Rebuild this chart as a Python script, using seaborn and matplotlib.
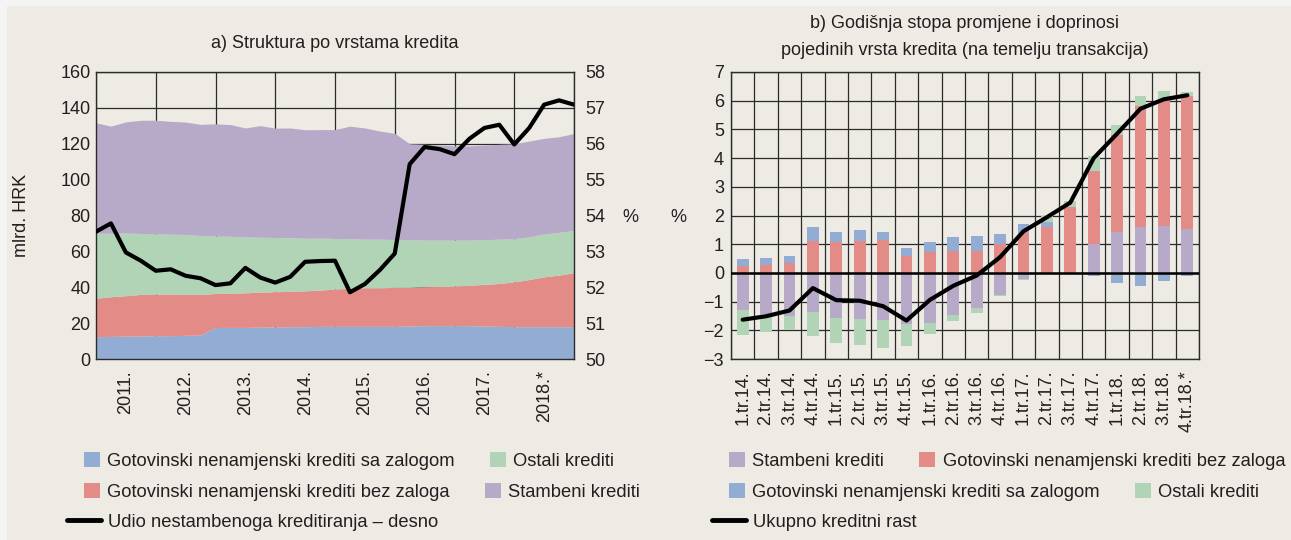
import matplotlib
matplotlib.use("Agg")
import matplotlib.pyplot as plt
from matplotlib.patches import Rectangle, Patch
from matplotlib.lines import Line2D
from matplotlib.font_manager import FontProperties
import seaborn as sns
import numpy as np
import pandas as pd

# ---- a) Struktura po vrstama kredita (mlrd. HRK, 4.tr.2010. - 4.tr.2018.) ----
godine = ["2011.", "2012.", "2013.", "2014.", "2015.", "2016.", "2017.", "2018.*"]
sa_zalogom = [12.4, 12.6, 12.8, 12.8, 13.0, 13.0, 13.2, 13.4, 17.6, 17.6, 17.6,
              17.8, 17.8, 18.0, 18.0, 18.2, 18.2, 18.2, 18.2, 18.2, 18.2, 18.4,
              18.6, 18.6, 18.6, 18.6, 18.4, 18.2, 18.0, 18.0, 18.0, 18.0, 18.0]
bez_zaloga = [21.5, 22.1, 22.5, 23.2, 23.2, 23.2, 23.0, 22.6, 18.9, 19.1, 19.3,
              19.5, 19.7, 19.7, 20.0, 20.2, 20.8, 21.2, 21.5, 21.5, 21.7, 21.5,
              21.7, 21.9, 22.1, 22.5, 23.2, 23.9, 25.0, 26.3, 27.8, 28.8, 30.1]
ostali = [36.2, 35.4, 34.9, 34.0, 33.6, 33.4, 33.2, 32.8, 32.1, 31.7, 31.2,
          30.6, 30.2, 29.9, 29.3, 29.0, 28.2, 27.7, 27.1, 27.1, 26.7, 26.5,
          26.0, 25.8, 25.6, 25.2, 24.9, 24.7, 24.1, 23.8, 23.9, 23.8, 23.6]
stambeni = [61.6, 59.7, 62.0, 63.1, 63.3, 62.9, 62.7, 62.0, 62.5, 62.3, 60.7,
            62.2, 61.0, 61.2, 60.5, 60.5, 60.7, 62.7, 62.0, 60.3, 59.2, 53.6,
            53.4, 52.9, 52.5, 52.5, 52.7, 52.9, 52.9, 53.4, 53.3, 53.3, 54.0]
udio_nestambeni = [53.55, 53.78, 52.97, 52.74, 52.46, 52.50, 52.32, 52.25, 52.06,
                   52.11, 52.54, 52.27, 52.13, 52.29, 52.71, 52.73, 52.74, 51.86,
                   52.09, 52.48, 52.94, 55.43, 55.91, 55.85, 55.71, 56.14, 56.44,
                   56.53, 55.98, 56.44, 57.09, 57.21, 57.09]

# ---- b) Godisnja stopa promjene i doprinosi (%) ----
tromjesecja = ["1.tr.14.", "2.tr.14.", "3.tr.14.", "4.tr.14.", "1.tr.15.", "2.tr.15.",
               "3.tr.15.", "4.tr.15.", "1.tr.16.", "2.tr.16.", "3.tr.16.", "4.tr.16.",
               "1.tr.17.", "2.tr.17.", "3.tr.17.", "4.tr.17.", "1.tr.18.", "2.tr.18.",
               "3.tr.18.", "4.tr.18.*"]
dop_stambeni = [-1.28, -1.43, -1.49, -1.35, -1.57, -1.60, -1.64, -1.78, -1.74, -1.47,
                -1.22, -0.77, -0.20, 0.0, 0.0, 1.00, 1.43, 1.60, 1.65, 1.52]
dop_bez_zaloga = [0.23, 0.28, 0.35, 1.10, 1.07, 1.10, 1.16, 0.58, 0.72, 0.78,
                  0.78, 1.01, 1.38, 1.59, 2.28, 2.55, 3.38, 4.20, 4.40, 4.64]
dop_sa_zalogom = [0.25, 0.24, 0.25, 0.50, 0.37, 0.39, 0.28, 0.29, 0.35, 0.46,
                  0.52, 0.34, 0.32, 0.20, 0.0, -0.12, -0.34, -0.45, -0.29, -0.12]
dop_ostali = [-0.87, -0.62, -0.50, -0.84, -0.87, -0.90, -0.98, -0.78, -0.39, -0.22,
              -0.18, -0.05, -0.05, 0.19, 0.21, 0.52, 0.36, 0.37, 0.28, 0.13]
ukupni_rast = [-1.63, -1.51, -1.31, -0.53, -0.95, -0.97, -1.16, -1.66, -0.94, -0.45,
               -0.09, 0.55, 1.45, 1.94, 2.45, 4.00, 4.85, 5.72, 6.05, 6.19]

C_BLUE = "#93ACD3"
C_RED = "#E28B87"
C_GREEN = "#B2D4B6"
C_PURPLE = "#B6AAC8"
BG = "#EEEBE5"
INK = "#231F20"
GRID = "#2B2B2B"

sns.set_style("white", {"axes.facecolor": BG, "figure.facecolor": "#F4F4F4"})
plt.rcParams["font.family"] = ["Liberation Sans", "DejaVu Sans"]
plt.rcParams["text.color"] = INK
plt.rcParams["xtick.color"] = INK
plt.rcParams["ytick.color"] = INK

fp_title = FontProperties(family=["Liberation Sans", "DejaVu Sans"], size=13)
fp_leg = FontProperties(family=["Liberation Sans", "DejaVu Sans"], size=13.2)

W, H = 1291, 540
fig = plt.figure(figsize=(W / 100, H / 100), dpi=100)
fig.patches.append(Rectangle((7 / W, 0), 1, 1 - 6 / H, transform=fig.transFigure,
                             facecolor=BG, edgecolor="none", zorder=-10))


def px_axes(x0, x1, y0, y1):
    return fig.add_axes([x0 / W, 1 - y1 / H, (x1 - x0) / W, (y1 - y0) / H])


def style_box(ax):
    for s in ax.spines.values():
        s.set_visible(True)
        s.set_color(GRID)
        s.set_linewidth(1.0)
    ax.set_axisbelow(True)
    ax.grid(True, which="major", color=GRID, lw=0.9)
    ax.tick_params(which="both", length=0, labelsize=13)


# ---------------- panel a ----------------
ax1 = px_axes(96, 574, 72, 359)
x_a = np.arange(len(stambeni))
ax1.stackplot(x_a, sa_zalogom, bez_zaloga, ostali, stambeni,
              colors=[C_BLUE, C_RED, C_GREEN, C_PURPLE], lw=0, zorder=1)
ax1.set_xlim(0, len(stambeni) - 1)
ax1.set_ylim(0, 160)
ax1.set_yticks(np.arange(0, 161, 20))
ax1.set_xticks(np.arange(0, len(stambeni), 4))
ax1.set_xticklabels([])
ax1.set_xticks(np.arange(2, len(stambeni), 4), minor=True)
ax1.set_xticklabels(godine, minor=True, rotation=90)
style_box(ax1)
ax1.tick_params(axis="y", pad=4)
ax1.tick_params(axis="x", which="minor", pad=8)

ax1r = ax1.twinx()
df_a = pd.DataFrame({"t": x_a, "udio": udio_nestambeni})
sns.lineplot(data=df_a, x="t", y="udio", ax=ax1r, color="black", lw=3, zorder=5)
ax1r.set_ylim(50, 58)
ax1r.set_yticks(np.arange(50, 59, 1))
ax1r.set_xlabel("")
ax1r.set_ylabel("")
ax1r.tick_params(length=0, labelsize=13, pad=8)
for s in ax1r.spines.values():
    s.set_visible(False)

fig.text(335 / W, 1 - 43 / H, "a) Struktura po vrstama kredita", ha="center",
         va="center", fontproperties=fp_title)
fig.text(22 / W, 1 - 215 / H, "mlrd. HRK", rotation=90, ha="center", va="center",
         fontsize=13)
fig.text(630 / W, 1 - 217 / H, "%", ha="center", va="center", fontsize=13)

# ---------------- panel b ----------------
ax2 = px_axes(731, 1199, 72, 359)
n = len(tromjesecja)
x_b = np.arange(n)
pos_bottom = np.zeros(n)
neg_bottom = np.zeros(n)
for vals, col in [(dop_stambeni, C_PURPLE), (dop_bez_zaloga, C_RED),
                  (dop_sa_zalogom, C_BLUE), (dop_ostali, C_GREEN)]:
    v = np.array(vals)
    bottom = np.where(v >= 0, pos_bottom, neg_bottom)
    ax2.bar(x_b, v, bottom=bottom, width=0.5, color=col, edgecolor="none", zorder=2)
    pos_bottom = pos_bottom + np.clip(v, 0, None)
    neg_bottom = neg_bottom + np.clip(v, None, 0)

df_b = pd.DataFrame({"t": x_b, "rast": ukupni_rast})
sns.lineplot(data=df_b, x="t", y="rast", ax=ax2, color="black", lw=3, zorder=5)
ax2.axhline(0, color="black", lw=1.8, zorder=4)
ax2.set_xlim(-0.5, n - 0.5)
ax2.set_ylim(-3, 7)
ax2.set_yticks(np.arange(-3, 8, 1))
ax2.set_xticks(np.arange(-0.5, n, 1))
ax2.set_xticklabels([])
ax2.set_xticks(x_b, minor=True)
ax2.set_xticklabels(tromjesecja, minor=True, rotation=90)
ax2.set_xlabel("")
ax2.set_ylabel("")
style_box(ax2)
ax2.tick_params(axis="y", pad=5)
ax2.tick_params(axis="x", which="minor", pad=8)

fig.text(965 / W, 1 - 37 / H,
         "b) Godišnja stopa promjene i doprinosi\npojedinih vrsta kredita (na temelju transakcija)",
         ha="center", va="center", fontproperties=fp_title, linespacing=1.7)
fig.text(678 / W, 1 - 217 / H, "%", ha="center", va="center", fontsize=13)

# ---------------- legends ----------------
def row_legend(x_px, y_px, handles, labels, hl):
    lg = fig.legend(handles, labels, loc="center left",
                    bbox_to_anchor=(x_px / W, 1 - y_px / H), ncol=len(handles),
                    frameon=False, prop=fp_leg, borderpad=0, borderaxespad=0,
                    handlelength=hl, handleheight=0.88, handletextpad=0.4,
                    columnspacing=1.9)
    for t in lg.get_texts():
        t.set_color(INK)
    return lg


def sq(c):
    return Patch(facecolor=c, edgecolor="none")


ln = Line2D([], [], color="black", lw=3.5)

row_legend(84, 461, [sq(C_BLUE), sq(C_GREEN)],
           ["Gotovinski nenamjenski krediti sa zalogom", "Ostali krediti"], 0.88)
row_legend(84, 492, [sq(C_RED), sq(C_PURPLE)],
           ["Gotovinski nenamjenski krediti bez zaloga", "Stambeni krediti"], 0.88)
row_legend(67, 522, [ln], ["Udio nestambenoga kreditiranja – desno"], 1.85)

row_legend(729, 461, [sq(C_PURPLE), sq(C_RED)],
           ["Stambeni krediti", "Gotovinski nenamjenski krediti bez zaloga"], 0.88)
row_legend(729, 492, [sq(C_BLUE), sq(C_GREEN)],
           ["Gotovinski nenamjenski krediti sa zalogom", "Ostali krediti"], 0.88)
row_legend(712, 522, [ln], ["Ukupno kreditni rast"], 1.85)

fig.savefig("out.png", dpi=100, facecolor=fig.get_facecolor())
